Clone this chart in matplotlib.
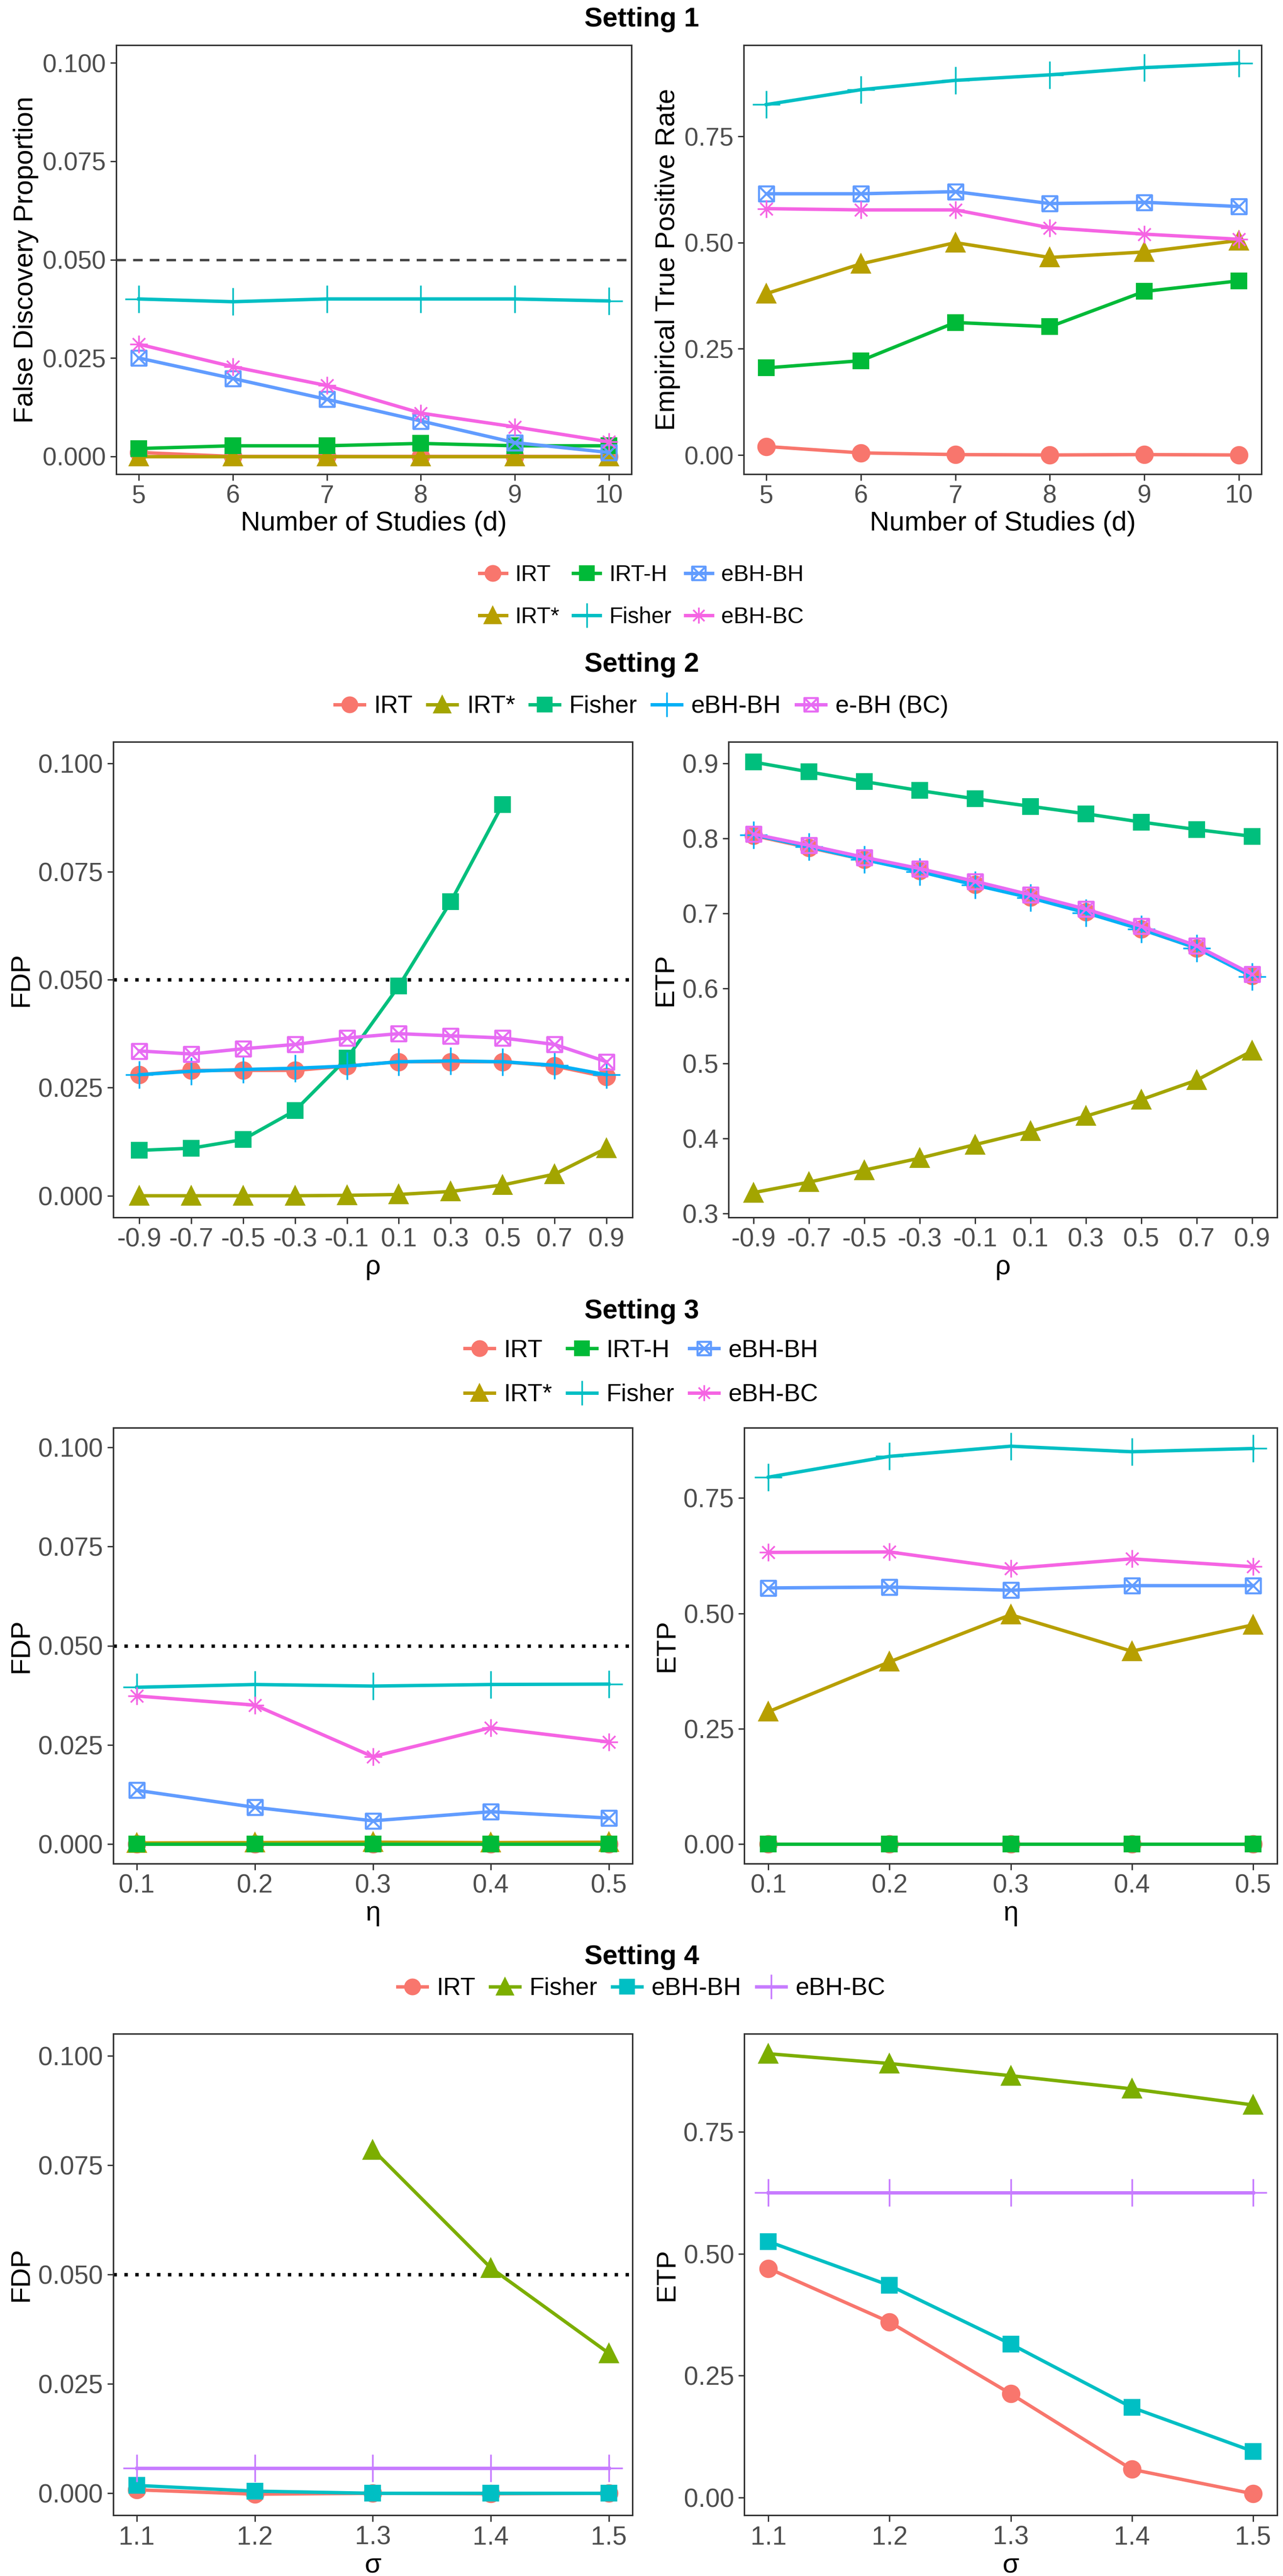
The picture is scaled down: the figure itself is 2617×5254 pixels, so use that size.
import numpy as np
import matplotlib
matplotlib.use("Agg")
import matplotlib.pyplot as plt
from matplotlib.path import Path
from matplotlib.lines import Line2D

W, H = 2617, 5254
DPI = 100
fig = plt.figure(figsize=(W / DPI, H / DPI), dpi=DPI)
plt.rcParams['font.family'] = ['Liberation Sans', 'DejaVu Sans']

# ---------------- data ----------------
d_vals = [5, 6, 7, 8, 9, 10]
s1_fdp = {
    'IRT':    [0.001, 0.0, 0.0, 0.0, 0.0, 0.0],
    'IRT*':   [0.0, 0.0, 0.0, 0.0, 0.0, 0.0],
    'IRT-H':  [0.002, 0.0027, 0.0027, 0.0033, 0.0027, 0.0027],
    'Fisher': [0.040, 0.0393, 0.040, 0.040, 0.040, 0.0395],
    'eBH-BH': [0.025, 0.0198, 0.0145, 0.009, 0.0035, 0.001],
    'eBH-BC': [0.0285, 0.0228, 0.018, 0.011, 0.0075, 0.0037],
}
s1_etp = {
    'IRT':    [0.02, 0.005, 0.001, 0.0, 0.001, 0.0],
    'IRT*':   [0.38, 0.45, 0.50, 0.465, 0.478, 0.505],
    'IRT-H':  [0.205, 0.222, 0.312, 0.302, 0.385, 0.41],
    'Fisher': [0.825, 0.86, 0.882, 0.895, 0.912, 0.922],
    'eBH-BH': [0.615, 0.615, 0.62, 0.592, 0.595, 0.585],
    'eBH-BC': [0.58, 0.577, 0.577, 0.535, 0.52, 0.508],
}

rho_vals = [-0.9, -0.7, -0.5, -0.3, -0.1, 0.1, 0.3, 0.5, 0.7, 0.9]
rho_labels = ['-0.9', '-0.7', '-0.5', '-0.3', '-0.1', '0.1', '0.3', '0.5', '0.7', '0.9']
s2_fdp = {
    'IRT':        [0.028, 0.029, 0.029, 0.029, 0.030, 0.031, 0.031, 0.031, 0.030, 0.0275],
    'IRT*':       [0.0, 0.0, 0.0, 0.0, 0.0001, 0.0003, 0.001, 0.0025, 0.005, 0.011],
    'Fisher':     [0.0105, 0.011, 0.013, 0.0197, 0.0318, 0.0485, 0.068, 0.0905, np.nan, np.nan],
    'eBH-BH':     [0.028, 0.0288, 0.0292, 0.0295, 0.030, 0.031, 0.0312, 0.031, 0.0302, 0.028],
    'e-BH (BC)':  [0.0335, 0.0328, 0.034, 0.035, 0.0365, 0.0375, 0.037, 0.0365, 0.035, 0.031],
}
s2_etp = {
    'IRT':        [0.804, 0.788, 0.772, 0.757, 0.739, 0.722, 0.702, 0.679, 0.654, 0.617],
    'IRT*':       [0.328, 0.342, 0.358, 0.374, 0.392, 0.41, 0.43, 0.452, 0.478, 0.517],
    'Fisher':     [0.902, 0.889, 0.876, 0.864, 0.853, 0.843, 0.833, 0.822, 0.812, 0.803],
    'eBH-BH':     [0.805, 0.789, 0.772, 0.756, 0.738, 0.721, 0.701, 0.679, 0.654, 0.616],
    'e-BH (BC)':  [0.806, 0.791, 0.775, 0.760, 0.743, 0.725, 0.706, 0.683, 0.657, 0.619],
}

eta_vals = [0.1, 0.2, 0.3, 0.4, 0.5]
s3_fdp = {
    'IRT':    [0.0, 0.0, 0.0, 0.0, 0.0],
    'IRT*':   [0.0002, 0.0003, 0.0004, 0.0003, 0.0004],
    'IRT-H':  [0.0, 0.0, 0.0, 0.0, 0.0],
    'Fisher': [0.0395, 0.0402, 0.0398, 0.0402, 0.0403],
    'eBH-BH': [0.0135, 0.0092, 0.0058, 0.0081, 0.0065],
    'eBH-BC': [0.0373, 0.035, 0.022, 0.0293, 0.0257],
}
s3_etp = {
    'IRT':    [0.0, 0.0, 0.0, 0.0, 0.0],
    'IRT*':   [0.287, 0.395, 0.497, 0.418, 0.475],
    'IRT-H':  [0.0, 0.0, 0.0, 0.0, 0.0],
    'Fisher': [0.795, 0.84, 0.862, 0.85, 0.857],
    'eBH-BH': [0.555, 0.557, 0.55, 0.56, 0.56],
    'eBH-BC': [0.632, 0.633, 0.597, 0.618, 0.601],
}

sigma_vals = [1.1, 1.2, 1.3, 1.4, 1.5]
s4_fdp = {
    'IRT':    [0.0008, -0.0002, 0.0, -0.0001, 0.0],
    'Fisher': [np.nan, np.nan, 0.0785, 0.0515, 0.032],
    'eBH-BH': [0.0018, 0.0005, 0.0, 0.0, 0.0],
    'eBH-BC': [0.0058, 0.0058, 0.0058, 0.0058, 0.0058],
}
s4_etp = {
    'IRT':    [0.47, 0.36, 0.213, 0.058, 0.008],
    'Fisher': [0.91, 0.89, 0.865, 0.838, 0.805],
    'eBH-BH': [0.525, 0.435, 0.315, 0.185, 0.095],
    'eBH-BC': [0.625, 0.625, 0.625, 0.625, 0.625],
}

# ---------------- styles ----------------
boxx = Path([(-1, -1), (1, -1), (1, 1), (-1, 1), (-1, -1), (1, 1), (-1, 1), (1, -1)],
            [1, 2, 2, 2, 2, 2, 1, 2])
star = Path([(-1, 0), (1, 0), (0, -1), (0, 1), (-0.707, -0.707), (0.707, 0.707),
             (-0.707, 0.707), (0.707, -0.707)], [1, 2, 1, 2, 1, 2, 1, 2])


def mk(marker, size, fill=True, mew=3):
    return dict(marker=marker, ms=size, mew=mew, filled=fill)


STY6 = {
    'IRT':    ('#F8766D', mk('o', 24)),
    'IRT*':   ('#B79F00', mk('^', 26)),
    'IRT-H':  ('#00BA38', mk('s', 22)),
    'Fisher': ('#00BFC4', mk('+', 40, mew=2.5)),
    'eBH-BH': ('#619CFF', mk(boxx, 22, False, 3)),
    'eBH-BC': ('#F564E3', mk(star, 26, False, 2.5)),
}
STY2 = {
    'IRT':       ('#F8766D', mk('o', 24)),
    'IRT*':      ('#A3A500', mk('^', 26)),
    'Fisher':    ('#00BF7D', mk('s', 22)),
    'eBH-BH':    ('#00B0F6', mk('+', 40, mew=2.5)),
    'e-BH (BC)': ('#E76BF3', mk(boxx, 22, False, 3)),
}
STY4 = {
    'IRT':    ('#F8766D', mk('o', 24)),
    'Fisher': ('#7CAE00', mk('^', 26)),
    'eBH-BH': ('#00BFC4', mk('s', 22)),
    'eBH-BC': ('#C77CFF', mk('+', 40, mew=2.5)),
}

NARROW = ['Liberation Sans Narrow', 'Liberation Sans', 'DejaVu Sans']
REG = ['Liberation Sans', 'DejaVu Sans']


def add_ax(l, t, r, b):
    return fig.add_axes([l / W, 1 - b / H, (r - l) / W, (b - t) / H])


def style_handle(color, st):
    face = color if st['filled'] else 'none'
    return Line2D([], [], color=color, lw=5, marker=st['marker'], ms=st['ms'] * 0.9,
                  mew=st['mew'], mfc=face, mec=color)


def draw(ax, x, data, sty, xticks, xlabels, ylim, yticks, ylabels, xlabel, ylabel,
         ref, refstyle, fam, tsize, lsize, xlim):
    for name, y in data.items():
        color, st = sty[name]
        face = color if st['filled'] else 'none'
        ax.plot(x, y, color=color, lw=5, marker=st['marker'], ms=st['ms'], mew=st['mew'],
                mfc=face, mec=color, zorder=3)
    if ref is not None:
        ax.axhline(ref, color=refstyle[0], ls=refstyle[1], lw=refstyle[2], zorder=2)
    ax.set_ylim(*ylim)
    ax.set_xlim(*xlim)
    ax.set_yticks(yticks)
    ax.set_yticklabels(ylabels, family=fam, fontsize=tsize, color='#4D4D4D')
    ax.set_xticks(xticks)
    ax.set_xticklabels(xlabels, family=fam, fontsize=tsize, color='#4D4D4D')
    ax.set_xlabel(xlabel, family=fam, fontsize=lsize, labelpad=4)
    ax.set_ylabel(ylabel, family=REG, fontsize=lsize, labelpad=6)
    for s in ax.spines.values():
        s.set_color('#333333')
        s.set_linewidth(2.2)
    ax.tick_params(length=9, width=2, color='#333333', pad=6)


def title(y, text):
    fig.text(0.5, 1 - y / H, text, ha='center', va='center', fontsize=40,
             fontweight='bold', family=REG if text == 'Setting 1' else NARROW)


def legend(names, sty, y, ncol, fam, fs, x=0.5):
    handles = [style_handle(*sty[n]) for n in names]
    fig.legend(handles, names, loc='center', bbox_to_anchor=(x, 1 - y / H), ncol=ncol,
               frameon=False, prop={'family': fam, 'size': fs}, handlelength=1.2,
               columnspacing=0.6, handletextpad=0.4, labelspacing=0.9)


FDP_T = [0, 0.025, 0.05, 0.075, 0.1]
FDP_L = ['0.000', '0.025', '0.050', '0.075', '0.100']
ETP_T = [0, 0.25, 0.5, 0.75]
ETP_L = ['0.00', '0.25', '0.50', '0.75']
DOT = ('black', (0, (1, 2.2)), 5)

# ---------------- Setting 1 ----------------
title(40, 'Setting 1')
ax = add_ax(237, 92, 1288, 967)
draw(ax, d_vals, s1_fdp, STY6, d_vals, [str(v) for v in d_vals], (-0.0045, 0.1045),
     FDP_T, FDP_L, 'Number of Studies (d)', 'False Discovery Proportion', 0.05,
     ('#444444', (0, (4, 3)), 3.5), REG, 37, 40, (4.76, 10.24))
ax = add_ax(1517, 92, 2573, 967)
draw(ax, d_vals, s1_etp, STY6, d_vals, [str(v) for v in d_vals], (-0.045, 0.965),
     ETP_T, ETP_L, 'Number of Studies (d)', 'Empirical True Positive Rate', None, None,
     REG, 37, 40, (4.76, 10.24))
legend(['IRT', 'IRT*', 'IRT-H', 'Fisher', 'eBH-BH', 'eBH-BC'], STY6, 1216, 3, REG, 33)

# ---------------- Setting 2 ----------------
title(1356, 'Setting 2')
legend(list(STY2.keys()), STY2, 1441, 5, NARROW, 36)
ax = add_ax(231, 1513, 1290, 2483)
draw(ax, rho_vals, s2_fdp, STY2, rho_vals, rho_labels, (-0.005, 0.105),
     FDP_T, FDP_L, 'ρ', 'FDP', 0.05, DOT, NARROW, 38, 40, (-1.0, 1.0))
ax = add_ax(1486, 1513, 2605, 2483)
draw(ax, rho_vals, s2_etp, STY2, rho_vals, rho_labels, (0.295, 0.929),
     [0.3, 0.4, 0.5, 0.6, 0.7, 0.8, 0.9], ['0.3', '0.4', '0.5', '0.6', '0.7', '0.8', '0.9'],
     'ρ', 'ETP', None, None, NARROW, 38, 40, (-0.99, 0.99))

# ---------------- Setting 3 ----------------
title(2675, 'Setting 3')
legend(['IRT', 'IRT*', 'IRT-H', 'Fisher', 'eBH-BH', 'eBH-BC'], STY6, 2800, 3, NARROW, 36)
ax = add_ax(231, 2912, 1290, 3801)
draw(ax, eta_vals, s3_fdp, STY6, eta_vals, ['0.1', '0.2', '0.3', '0.4', '0.5'], (-0.005, 0.105),
     FDP_T, FDP_L, 'η', 'FDP', 0.05, DOT, NARROW, 38, 40, (0.08, 0.52))
ax = add_ax(1518, 2912, 2605, 3801)
draw(ax, eta_vals, s3_etp, STY6, eta_vals, ['0.1', '0.2', '0.3', '0.4', '0.5'], (-0.042, 0.902),
     ETP_T, ETP_L, 'η', 'ETP', None, None, NARROW, 38, 40, (0.08, 0.52))

# ---------------- Setting 4 ----------------
title(3992, 'Setting 4')
legend(list(STY4.keys()), STY4, 4056, 4, NARROW, 36)
ax = add_ax(231, 4148, 1290, 5130)
draw(ax, sigma_vals, s4_fdp, STY4, sigma_vals, ['1.1', '1.2', '1.3', '1.4', '1.5'], (-0.005, 0.105),
     FDP_T, FDP_L, 'σ', 'FDP', 0.05, DOT, NARROW, 38, 40, (1.08, 1.52))
ax = add_ax(1518, 4148, 2605, 5130)
draw(ax, sigma_vals, s4_etp, STY4, sigma_vals, ['1.1', '1.2', '1.3', '1.4', '1.5'], (-0.036, 0.951),
     ETP_T, ETP_L, 'σ', 'ETP', None, None, NARROW, 38, 40, (1.08, 1.52))

fig.savefig('out.png', dpi=DPI, facecolor='white')
